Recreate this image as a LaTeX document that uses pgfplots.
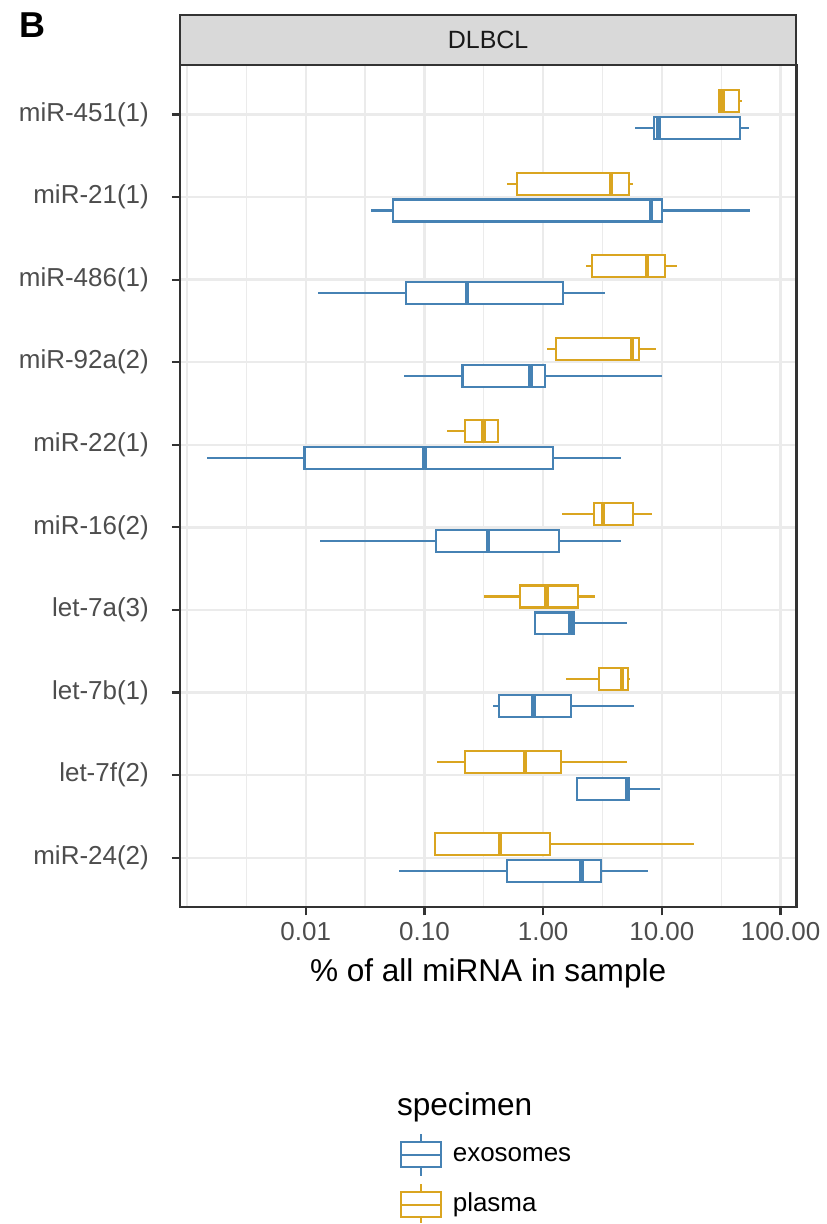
\documentclass[border=0pt]{standalone}
\usepackage{pgfplots}
\pgfplotsset{compat=1.18}
\usepgfplotslibrary{statistics}
\usepackage{fontspec}
\setmainfont{Liberation Sans}
\definecolor{exo}{HTML}{4682B4}
\definecolor{pla}{HTML}{DAA520}
\definecolor{gridc}{HTML}{EBEBEB}
\definecolor{borderc}{HTML}{333333}
\definecolor{tickc}{HTML}{4D4D4D}
\definecolor{stripc}{HTML}{D9D9D9}
\newcommand{\bx}[7]{\addplot[draw=#1, solid, line width=1.05pt, fill=white,
  boxplot prepared={draw position=#2, lower whisker=#3, lower quartile=#4,
  median=#5, upper quartile=#6, upper whisker=#7, box extend=0.266,
  whisker extend=0, every median/.style={line width=2.2pt}}] coordinates {};}
\begin{document}
\begin{tikzpicture}
\path (0,0) rectangle (409pt,612pt);
\begin{axis}[
  at={(90pt,158pt)}, anchor=south west,
  scale only axis, width=308.5pt, height=421.5pt,
  xmode=log, xmin=0.00087, xmax=135.8,
  ymin=0.4, ymax=10.6, y dir=reverse,
  xtick={0.01,0.1,1,10,100},
  xticklabels={0.01,0.10,1.00,10.00,100.00},
  minor xtick={0.001,0.0031623,0.031623,0.31623,3.1623,31.623},
  ytick={1,2,3,4,5,6,7,8,9,10},
  yticklabels={miR-451(1),miR-21(1),miR-486(1),miR-92a(2),miR-22(1),miR-16(2),let-7a(3),let-7b(1),let-7f(2),miR-24(2)},
  xmajorgrids, ymajorgrids, xminorgrids,
  major grid style={gridc, line width=1.2pt},
  minor grid style={gridc, line width=0.6pt},
  axis line style={borderc, line width=1.2pt},
  tick style={borderc, line width=1.1pt},
  major tick length=4pt, minor tick length=0pt,
  tick align=outside, xtick pos=bottom, ytick pos=left,
  ticklabel style={font=\fontsize{13}{15}\selectfont, text=tickc},
  yticklabel style={xshift=-8pt},
]
% plasma (above), exosomes (below)
\bx{pla}{0.837}{30.3}{30.3}{32.3}{44.6}{47.4}
\bx{exo}{1.163}{5.94}{8.65}{9.35}{45.9}{54.0}
\bx{pla}{1.837}{0.494}{0.60}{3.72}{5.33}{5.67}
\bx{exo}{2.163}{0.0356}{0.0543}{8.08}{9.94}{55.3}
\bx{pla}{2.837}{2.31}{2.59}{7.48}{10.57}{13.5}
\bx{exo}{3.163}{0.0126}{0.070}{0.229}{1.475}{3.31}
\bx{pla}{3.837}{1.07}{1.29}{5.58}{6.37}{8.86}
\bx{exo}{4.163}{0.0668}{0.209}{0.785}{1.04}{9.94}
\bx{pla}{4.837}{0.156}{0.220}{0.314}{0.418}{0.418}
\bx{exo}{5.163}{0.00148}{0.00977}{0.100}{1.20}{4.54}
\bx{pla}{5.837}{1.43}{2.69}{3.21}{5.67}{8.20}
\bx{exo}{6.163}{0.0133}{0.125}{0.344}{1.37}{4.54}
\bx{pla}{6.837}{0.319}{0.637}{1.07}{1.98}{2.75}
\bx{exo}{7.163}{0.847}{0.847}{1.69}{1.80}{5.09}
\bx{pla}{7.837}{1.57}{2.95}{4.61}{5.17}{5.37}
\bx{exo}{8.163}{0.377}{0.428}{0.828}{1.73}{5.81}
\bx{pla}{8.837}{0.127}{0.220}{0.700}{1.42}{5.09}
\bx{exo}{9.163}{1.93}{1.93}{5.09}{5.29}{9.71}
\bx{pla}{9.837}{0.122}{0.122}{0.433}{1.15}{18.8}
\bx{exo}{10.163}{0.0605}{0.494}{2.10}{3.09}{7.60}
\end{axis}
% strip
\draw[fill=stripc, draw=borderc, line width=1.1pt] (90pt,579.5pt) rectangle (398.5pt,604.5pt);
\node[font=\fontsize{12.5}{15}\selectfont, text=black!90] at (244.25pt,592pt) {DLBCL};
% panel tag
\node[font=\bfseries\fontsize{18}{21}\selectfont] at (16.5pt,599.5pt) {B};
% x label
\node[font=\fontsize{15.8}{19}\selectfont] at (244.25pt,125pt) {\% of all miRNA in sample};
% legend
\node[font=\fontsize{15.8}{19}\selectfont, anchor=west, inner sep=0pt] at (198.5pt,58pt) {specimen};
\begin{scope}[line width=1pt]
\draw[exo] (210.7pt,44.5pt) -- (210.7pt,40.65pt) (210.7pt,27.85pt) -- (210.7pt,23.65pt);
\draw[exo, fill=white] (200.9pt,27.85pt) rectangle (220.5pt,40.65pt);
\draw[exo] (200.9pt,34.25pt) -- (220.5pt,34.25pt);
\draw[pla] (210.7pt,19.5pt) -- (210.7pt,15.65pt) (210.7pt,2.85pt) -- (210.7pt,0pt);
\draw[pla, fill=white] (200.9pt,2.85pt) rectangle (220.5pt,15.65pt);
\draw[pla] (200.9pt,9.25pt) -- (220.5pt,9.25pt);
\end{scope}
\node[font=\fontsize{13}{15}\selectfont, anchor=west, inner sep=0pt] at (226.4pt,34.25pt) {exosomes};
\node[font=\fontsize{13}{15}\selectfont, anchor=west, inner sep=0pt] at (226.4pt,9.25pt) {plasma};
\end{tikzpicture}
\end{document}
